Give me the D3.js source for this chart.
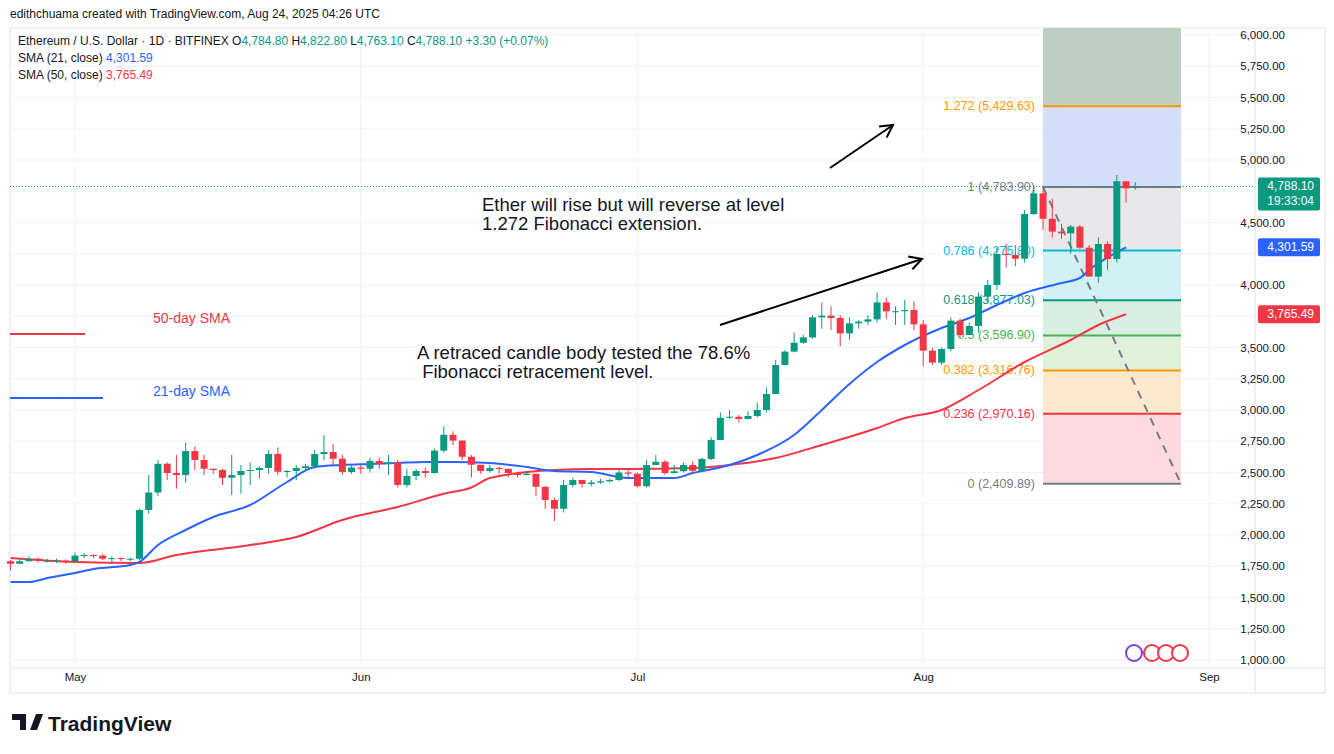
<!DOCTYPE html>
<html><head><meta charset="utf-8">
<script src="https://cdn.jsdelivr.net/npm/d3@7"></script>
<style>
body{margin:0;background:#fff;font-family:"Liberation Sans",Arial,sans-serif}
svg text{font-family:"Liberation Sans",Arial,sans-serif}
</style></head><body>
<svg id="c" width="1334" height="754"></svg>
<script>
// daily candles Apr 24 .. Aug 24 2025 (open = previous close)
const startDate = new Date(2025, 3, 24)
const closes = [
  1770,1790,1810,1795,1795,1795,1790,
  1835,1840,1835,1810,1815,1810,1810,2200,2340,2570,2496,2480,2672,2600,2530,2520,2458,2480,2512,2520,2536,2648,2506,2512,2536,2550,2648,2664,2610,2504,2540,
  2530,2592,2568,2580,2400,2472,2512,2496,2675,2802,2755,2626,2562,2512,2536,2530,2496,2480,2490,2386,2280,2210,2400,2440,2408,2420,2430,2440,2500,2490,
  2390,2560,2586,2496,2510,2560,2514,2608,2760,2938,2946,2928,2952,3000,3128,3360,3467,3538,3581,3741,3755,3736,3613,3693,3707,3725,3861,3789,3790,3800,3685,
  3475,3379,3488,3715,3600,3672,3907,4000,4248,4240,4210,4568,4733,4530,4427,4413,4467,4298,4067,4328,4208,4830,4773,4788.1
]
const highs = [
  1800,1815,1830,1820,1810,1812,1805,
  1860,1855,1845,1850,1830,1822,1820,2210,2480,2600,2580,2640,2740,2710,2640,2530,2530,2640,2560,2580,2550,2680,2700,2520,2560,2570,2680,2800,2730,2640,2560,
  2560,2620,2620,2640,2600,2530,2530,2540,2690,2870,2830,2760,2640,2560,2560,2550,2520,2500,2510,2400,2390,2300,2440,2460,2430,2440,2450,2450,2520,2520,
  2500,2600,2640,2600,2560,2580,2590,2620,2780,2980,3000,2960,2990,3060,3180,3400,3480,3620,3600,3760,3860,3830,3760,3740,3720,3760,3940,3900,3830,3880,3870,
  3720,3500,3500,3740,3730,3700,3940,4040,4300,4330,4320,4600,4790,4780,4690,4490,4480,4480,4320,4380,4350,4880,4790,4822.8
]
const lows = [
  1715,1770,1790,1780,1780,1775,1770,
  1790,1815,1815,1800,1770,1790,1790,1800,2170,2310,2440,2370,2420,2520,2480,2490,2400,2320,2330,2400,2450,2490,2480,2460,2440,2520,2530,2600,2560,2480,2490,
  2490,2500,2530,2480,2380,2380,2440,2460,2490,2660,2720,2600,2460,2490,2500,2490,2460,2460,2480,2310,2210,2110,2180,2380,2380,2390,2410,2420,2430,2460,
  2380,2380,2560,2480,2490,2500,2490,2500,2600,2760,2930,2900,2930,2940,2980,3130,3370,3460,3530,3570,3650,3640,3510,3560,3650,3680,3700,3730,3680,3680,3640,
  3350,3360,3360,3470,3580,3600,3620,3860,3960,4140,4150,4180,4560,4440,4380,4370,4250,4290,4080,4020,4120,4180,4660,4763.1
]
const firstOpen = 1790
const lastOpen = 4784.8

// SMA: [day index, value]
const sma21 = [[0,1624],[2,1624],[4,1656],[7,1696],[9,1728],[13,1760],[14,1785],[16,1920],[19,2040],[22,2144],[26,2240],[30,2424],[33,2544],[36,2560],[39,2568],[42,2576],[45,2584],[48,2584],[52,2576],[56,2544],[59,2512],[63,2504],[67,2456],[72,2456],[74,2496],[78,2560],[81,2640],[85,2800],[88,3000],[91,3208],[94,3384],[97,3520],[101,3656],[104,3736],[107,3840],[110,3936],[114,4016],[116,4056],[117,4120],[121,4301.59]]
const sma50 = [[0,1816],[7,1784],[14,1776],[18,1840],[26,1920],[31,1984],[36,2120],[42,2224],[47,2330],[50,2380],[52,2456],[59,2520],[63,2528],[67,2528],[74,2536],[78,2560],[83,2616],[88,2720],[94,2856],[97,2936],[101,3000],[105,3160],[110,3384],[115,3560],[118,3680],[121,3765.49]]

const priceTicks = [1000,1250,1500,1750,2000,2250,2500,2750,3000,3250,3500,4000,4500,5000,5250,5500,5750,6000]
const gridTicks = [1000,1250,1500,1750,2000,2250,2500,2750,3000,3250,3500,3750,4000,4250,4500,4750,5000,5250,5500,5750,6000]
const monthTicks = [[new Date(2025,4,1),"May"],[new Date(2025,5,1),"Jun"],[new Date(2025,6,1),"Jul"],[new Date(2025,7,1),"Aug"],[new Date(2025,8,1),"Sep"]]

const fibLow = 2409.89, fibHigh = 4783.90
const fibLevels = [0,0.236,0.382,0.5,0.618,0.786,1,1.272,1.618]
const fibLabels = ["0 (2,409.89)","0.236 (2,970.16)","0.382 (3,316.76)","0.5 (3,596.90)","0.618 (3,877.03)","0.786 (4,275.80)","1 (4,783.90)","1.272 (5,429.63)",""]
const fibColors = ["#787b86","#f23645","#ff9800","#4caf50","#089981","#00bcd4","#787b86","#ff9800","#787b86"]
const fibFills = ["#fcd6da","#fde8c8","#dcefd6","#d5ece0","#cdf0f3","#e6e6e8","#d0dcfa","#b7c9b9"]

const svg = d3.select("#c")
const x = d3.scaleTime().domain([new Date(2025,4,1), new Date(2025,8,1)]).range([75, 1209])
const y = d3.scaleLinear().domain([1000, 6000]).range([660, 35])
const dayX = (i) => x(d3.timeDay.offset(startDate, i))
const L = 10, R = 1255, T = 28, B = 693

// frame and grid
svg.append("rect").attr("x", L).attr("y", T).attr("width", 1325 - L).attr("height", B - T).attr("fill", "none").attr("stroke", "#e0e3eb")
svg.append("line").attr("x1", R).attr("x2", R).attr("y1", T).attr("y2", B).attr("stroke", "#e0e3eb")
svg.append("line").attr("x1", L).attr("x2", 1325).attr("y1", 668).attr("y2", 668).attr("stroke", "#e0e3eb")
const grid = svg.append("g")
gridTicks.forEach((p) => grid.append("line").attr("x1", L).attr("x2", R).attr("y1", y(p)).attr("y2", y(p)).attr("stroke", "#f0f3fa"))
monthTicks.forEach(([d]) => grid.append("line").attr("x1", x(d)).attr("x2", x(d)).attr("y1", T).attr("y2", 668).attr("stroke", "#f0f3fa"))

// axes labels
const yAx = svg.append("g").attr("transform", `translate(${R},0)`)
  .call(d3.axisRight(y).tickValues(priceTicks).tickSize(0).tickPadding(30).tickFormat(d3.format(",.2f")))
yAx.select(".domain").remove()
yAx.selectAll("text").attr("font-size", 11.5).attr("fill", "#131722").attr("text-anchor", "end")
const xAx = svg.append("g").attr("transform", "translate(0,668)")
  .call(d3.axisBottom(x).tickValues(monthTicks.map((m) => m[0])).tickSize(0).tickPadding(5).tickFormat((d, i) => monthTicks[i][1]))
xAx.select(".domain").remove()
xAx.selectAll("text").attr("font-size", 11.5).attr("fill", "#131722")

// fibonacci box
const fx1 = 1043, fx2 = 1181
const fp = (l) => fibLow + (fibHigh - fibLow) * l
const fib = svg.append("g")
fibFills.forEach((c, i) => {
  const top = Math.max(y(fp(fibLevels[i + 1])), T)
  fib.append("rect").attr("x", fx1).attr("width", fx2 - fx1).attr("y", top).attr("height", y(fp(fibLevels[i])) - top).attr("fill", c).attr("opacity", 0.9)
})
fibLevels.forEach((l, i) => {
  if (!fibLabels[i]) return
  fib.append("line").attr("x1", fx1).attr("x2", fx2).attr("y1", y(fp(l))).attr("y2", y(fp(l))).attr("stroke", fibColors[i]).attr("stroke-width", 2)
  fib.append("text").attr("x", 1035).attr("y", y(fp(l)) + 4).attr("text-anchor", "end").attr("font-size", 12.5).attr("fill", fibColors[i]).text(fibLabels[i])
})
fib.append("line").attr("x1", fx1).attr("y1", y(fibHigh)).attr("x2", fx2).attr("y2", y(fibLow))
  .attr("stroke", "#787b86").attr("stroke-width", 2).attr("stroke-dasharray", "8,7")

// last price dotted line
svg.append("line").attr("x1", L).attr("x2", R).attr("y1", y(4788.1)).attr("y2", y(4788.1)).attr("stroke", "#089981").attr("stroke-dasharray", "1,2")

// moving averages
const line = d3.line().x((d) => dayX(d[0])).y((d) => y(d[1])).curve(d3.curveMonotoneX)
svg.append("path").attr("d", line(sma50)).attr("fill", "none").attr("stroke", "#f23645").attr("stroke-width", 2)
svg.append("path").attr("d", line(sma21)).attr("fill", "none").attr("stroke", "#2962ff").attr("stroke-width", 2)

// candles
const candles = closes.map((c, i) => ({
  i, c, h: highs[i], l: lows[i],
  o: i === closes.length - 1 ? lastOpen : (i ? closes[i - 1] : firstOpen)
}))
const cg = svg.append("g").selectAll("g").data(candles).join("g")
const col = (d) => d.c >= d.o ? "#089981" : "#f23645"
cg.append("line").attr("x1", (d) => dayX(d.i)).attr("x2", (d) => dayX(d.i))
  .attr("y1", (d) => y(d.h)).attr("y2", (d) => y(d.l)).attr("stroke", col)
cg.append("rect").attr("x", (d) => dayX(d.i) - 3.5).attr("width", 7)
  .attr("y", (d) => y(Math.max(d.o, d.c))).attr("height", (d) => Math.max(1, Math.abs(y(d.o) - y(d.c)))).attr("fill", col)

// arrows
const arrow = (x1, y1, x2, y2) => {
  svg.append("line").attr("x1", x1).attr("y1", y1).attr("x2", x2).attr("y2", y2).attr("stroke", "#000").attr("stroke-width", 2)
  const a = Math.atan2(y2 - y1, x2 - x1), s = 14
  const p = (da) => `${x2 - s * Math.cos(a + da)},${y2 - s * Math.sin(a + da)}`
  svg.append("path").attr("d", `M${p(0.5)} L${x2},${y2} L${p(-0.5)}`).attr("fill", "none").attr("stroke", "#000").attr("stroke-width", 2)
}
arrow(830, 168, 893, 125)
arrow(720, 325, 922, 259)

// annotations
const txt = (t, xx, yy, size, fill, weight) => svg.append("text").attr("x", xx).attr("y", yy).attr("font-size", size).attr("fill", fill).attr("font-weight", weight || "normal").attr("xml:space", "preserve").text(t)
txt("Ether will rise but will reverse at level", 482, 211, 18.5, "#131722")
txt("1.272 Fibonacci extension.", 482, 230, 18.5, "#131722")
txt("A retraced candle body tested the 78.6%", 417, 359, 18.5, "#131722")
txt(" Fibonacci retracement level.", 417, 378, 18.5, "#131722")
svg.append("line").attr("x1", 10).attr("x2", 85).attr("y1", 334).attr("y2", 334).attr("stroke", "#f23645").attr("stroke-width", 2)
svg.append("line").attr("x1", 10).attr("x2", 103).attr("y1", 398).attr("y2", 398).attr("stroke", "#2962ff").attr("stroke-width", 2)
txt("50-day SMA", 153, 323, 14, "#f23645")
txt("21-day SMA", 153, 396, 14, "#2962ff")

// header
txt("edithchuama created with TradingView.com, Aug 24, 2025 04:26 UTC", 10, 18, 12, "#131722")
const h1 = svg.append("text").attr("x", 18).attr("y", 45).attr("font-size", 12).attr("fill", "#131722")
h1.append("tspan").text("Ethereum / U.S. Dollar · 1D · BITFINEX  O")
h1.append("tspan").attr("fill", "#089981").text("4,784.80 ")
h1.append("tspan").text(" H")
h1.append("tspan").attr("fill", "#089981").text("4,822.80 ")
h1.append("tspan").text(" L")
h1.append("tspan").attr("fill", "#089981").text("4,763.10 ")
h1.append("tspan").text(" C")
h1.append("tspan").attr("fill", "#089981").text("4,788.10 +3.30 (+0.07%)")
const h2 = svg.append("text").attr("x", 18).attr("y", 62).attr("font-size", 12).attr("fill", "#131722")
h2.append("tspan").text("SMA (21, close) ")
h2.append("tspan").attr("fill", "#2962ff").text("4,301.59")
const h3 = svg.append("text").attr("x", 18).attr("y", 79).attr("font-size", 12).attr("fill", "#131722")
h3.append("tspan").text("SMA (50, close) ")
h3.append("tspan").attr("fill", "#f23645").text("3,765.49")

// price tags
const tag = (v, label, color, h, sub) => {
  const yy = y(v)
  svg.append("rect").attr("x", R + 3).attr("y", yy - 9).attr("width", 62).attr("height", h).attr("rx", 2).attr("fill", color)
  svg.append("text").attr("x", 1314).attr("y", yy + 4).attr("text-anchor", "end").attr("font-size", 12).attr("fill", "#fff").text(label)
  if (sub) svg.append("text").attr("x", 1314).attr("y", yy + 19).attr("text-anchor", "end").attr("font-size", 12).attr("fill", "#fff").text(sub)
}
tag(4788.1, "4,788.10", "#089981", 33, "19:33:04")
tag(4301.59, "4,301.59", "#2962ff", 18)
tag(3765.49, "3,765.49", "#f23645", 18)

// event icons
;[[1134, "#7b3fe4"], [1152, "#f23645"], [1166, "#f23645"], [1180, "#f23645"]].forEach(([cx, c]) =>
  svg.append("circle").attr("cx", cx).attr("cy", 653).attr("r", 8).attr("fill", "#fff").attr("stroke", c).attr("stroke-width", 2))

// logo
txt("TradingView", 48, 731, 21, "#131722", "bold")
svg.append("path").attr("d", "M12 714 h14 v16 h-6 v-10 h-8z M30 730 l6 -16 h7 l-6 16z").attr("fill", "#131722")
</script>
</body></html>
